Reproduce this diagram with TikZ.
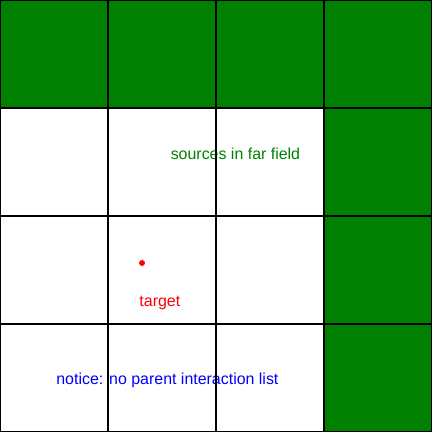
\documentclass[tikz,border=0pt]{standalone}
\usepackage{fontspec}
\setmainfont{Liberation Sans}
\usepackage{xcolor}
\usepackage{tikz}

\definecolor{farfield}{RGB}{0,128,0}

\begin{document}
\begin{tikzpicture}[
    x=1.5in, y=-1.5in,
    label/.style={font=\fontsize{16}{19}\selectfont, inner sep=0pt},
    gridline/.style={line width=1.5pt, black},
  ]
    \useasboundingbox (0,0) rectangle (4,4);
    % far field cells
    \fill[farfield] (0,0) rectangle (4,1);
    \fill[farfield] (3,1) rectangle (4,4);

    \node[label, text=farfield] (src) at (2.18,1.42) {sources in far field};
    \fill[red] (1.315,2.435) circle (3pt);
    \coordinate (tgtpt) at (1.315,2.435);
    \node[label, text=red] (tgt) at (1.48,2.81) {target};
    \node[label, text=blue] (note) at (1.55,3.52) {notice: no parent interaction list};

    % grid on top
    \draw[gridline, step=1.5in] (0,0) grid (4,4);
  \end{tikzpicture}
\end{document}
